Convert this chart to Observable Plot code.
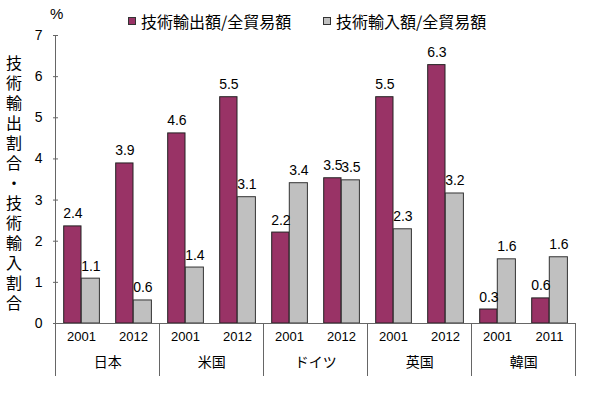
<!DOCTYPE html>
<html><head><meta charset="utf-8">
<script src="https://cdn.jsdelivr.net/npm/d3@7"></script>
<script src="https://cdn.jsdelivr.net/npm/@observablehq/plot@0.6"></script>
<style>
body{margin:0;background:#fff;}
#wrap{position:relative;width:600px;height:394px;font-family:"Liberation Sans","Noto Sans CJK JP",sans-serif;color:#000;}
#ylabel{position:absolute;left:5px;top:55px;writing-mode:vertical-rl;font-family:"Noto Sans CJK JP",sans-serif;font-size:16px;letter-spacing:4px;line-height:18px;}
.leg{position:absolute;top:12px;display:flex;align-items:center;font-size:16px;line-height:18px;font-family:"Noto Sans CJK JP",sans-serif;}
.sw{width:6px;height:6px;border:1px solid #333;margin-right:5px;}
#pct{position:absolute;left:50px;top:5px;font-size:15px;font-family:"Liberation Sans",sans-serif;}
</style></head>
<body><div id="wrap"></div>
<script>
const countries = ["日本","米国","ドイツ","英国","韓国"];
const years = [["2001","2012"],["2001","2012"],["2001","2012"],["2001","2012"],["2001","2011"]];
const exportShare = [2.36,3.89, 4.62,5.50, 2.21,3.53, 5.50,6.28, 0.34,0.61];
const importShare = [1.09,0.56, 1.36,3.07, 3.41,3.48, 2.29,3.16, 1.56,1.61];
const seriesNames = ["技術輸出額/全貿易額","技術輸入額/全貿易額"];
const seriesColors = ["#993366","#c0c0c0"];
const yTicks = [0,1,2,3,4,5,6,7];
const yTitle = "技術輸出割合・技術輸入割合";
const unit = "%";

const slots = countries.flatMap((c,i)=>years[i].map(y=>({country:c, year:y, key:c+"-"+y})));
const rows = slots.map((s,i)=>({...s, exp:exportShare[i], imp:importShare[i]}));
const keys = slots.map(d=>d.key);
const groups = countries.map((c,i)=>({country:c, first:c+"-"+years[i][0], last:c+"-"+years[i][1]}));

const W=600,H=394, ml=53, mr=24, mt=35, mb=71;
const slotW = (W-ml-mr)/keys.length;
const lineColor = "#666";

function frameLines(index, scales, values, dim){
  const g = d3.create("svg:g").attr("stroke", lineColor).attr("stroke-width",1).attr("shape-rendering","crispEdges");
  const bw = (dim.width - dim.marginLeft - dim.marginRight)/keys.length;
  const y0 = scales.y(0), yb = dim.height - 18, yt = scales.y(d3.max(yTicks));
  const xs = groups.map(g=>scales.x(g.first));
  xs.push(scales.x(groups[groups.length-1].last)+bw);
  xs.forEach(x=>g.append("line").attr("x1",x).attr("x2",x).attr("y1",y0).attr("y2",yb));
  g.append("line").attr("x1",xs[0]).attr("x2",xs[0]).attr("y1",yt).attr("y2",yb);
  g.append("line").attr("x1",xs[0]).attr("x2",xs[xs.length-1]).attr("y1",y0).attr("y2",y0);
  return g.node();
}

const plot = Plot.plot({
  width:W, height:H, marginLeft:ml, marginRight:mr, marginTop:mt, marginBottom:mb,
  style:{fontFamily:'"Liberation Sans","Noto Sans CJK JP",sans-serif', fontSize:"14px", background:"transparent", overflow:"visible", color:"#000"},
  x:{type:"band", domain:keys, padding:0, axis:null},
  y:{domain:[0,7], axis:null, label:null},
  marks:[
    Plot.barY(rows, {x:"key", y:"exp", fill:seriesColors[0], stroke:"#222", strokeWidth:1, insetLeft:8.7, insetRight:26}),
    Plot.barY(rows, {x:"key", y:"imp", fill:seriesColors[1], stroke:"#333", strokeWidth:1, insetLeft:26.3, insetRight:7.6}),
    frameLines,
    Plot.axisY({ticks:yTicks, tickSize:-5, tickPadding:16, fontSize:14, tickFormat:d=>String(d), label:null, stroke:lineColor}),
    Plot.text(rows, {x:"key", y:"exp", text:d=>d.exp.toFixed(1), dx:-8.6, dy:-8, lineAnchor:"bottom", fontSize:14}),
    Plot.text(rows, {x:"key", y:"imp", text:d=>d.imp.toFixed(1), dx:9.4, dy:-8, lineAnchor:"bottom", fontSize:14}),
    Plot.text(slots, {x:"key", text:"year", frameAnchor:"bottom", dy:17, fontSize:13}),
    Plot.text(groups, {x:"first", text:"country", frameAnchor:"bottom", dy:43, dx:slotW/2, fontSize:14, fontFamily:'"Noto Sans CJK JP",sans-serif'})
  ]
});

const wrap = document.getElementById("wrap");
wrap.appendChild(plot);

const yl = document.createElement("div"); yl.id="ylabel"; yl.textContent = yTitle; wrap.appendChild(yl);
const pc = document.createElement("div"); pc.id="pct"; pc.textContent = unit; wrap.appendChild(pc);
const legLeft = [128, 323];
seriesNames.forEach((n,i)=>{
  const d = document.createElement("div"); d.className="leg"; d.style.left = legLeft[i]+"px";
  const s = document.createElement("span"); s.className="sw"; s.style.background = seriesColors[i];
  const t = document.createElement("span"); t.textContent = n;
  d.appendChild(s); d.appendChild(t); wrap.appendChild(d);
});
</script>
</body></html>
